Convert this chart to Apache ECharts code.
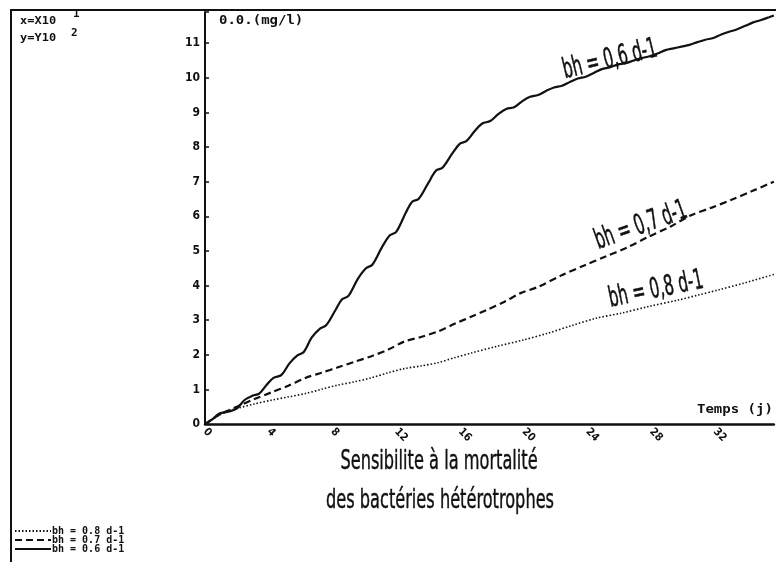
<!DOCTYPE html>
<html>
<head>
<meta charset="utf-8">
<script src="https://cdn.jsdelivr.net/npm/echarts@6/dist/echarts.min.js"></script>
<style>
  html, body { margin: 0; padding: 0; background: #fff; }
  #chart { width: 776px; height: 562px; }
</style>
</head>
<body>
<div id="chart"></div>
<script>
// Dissolved oxygen (mg/l) vs time (days) for three heterotrophic mortality rates
const seriesNames = ['bh = 0.8 d-1', 'bh = 0.7 d-1', 'bh = 0.6 d-1'];
const curveLabels = ['bh = 0,6 d-1', 'bh = 0,7 d-1', 'bh = 0,8 d-1'];

const od06 = [
  [0,0],[0.5,0.15],[0.9,0.3],[1.5,0.36],[2.0,0.45],[2.5,0.7],[3.0,0.82],[3.4,0.88],
  [3.9,1.15],[4.3,1.33],[4.8,1.42],[5.3,1.75],[5.8,1.98],[6.2,2.08],[6.7,2.5],[7.2,2.75],
  [7.6,2.85],[8.2,3.3],[8.6,3.6],[9.0,3.7],[9.6,4.2],[10.1,4.5],[10.5,4.6],[11.1,5.1],
  [11.6,5.45],[12.0,5.55],[12.6,6.1],[13.0,6.42],[13.4,6.5],[14.0,6.95],[14.5,7.32],[14.9,7.4],
  [15.5,7.8],[16.0,8.1],[16.4,8.17],[16.9,8.45],[17.4,8.68],[17.9,8.75],[18.4,8.95],[18.9,9.1],
  [19.4,9.15],[19.9,9.32],[20.4,9.45],[20.9,9.5],[21.4,9.62],[21.9,9.72],[22.4,9.77],[22.9,9.88],
  [23.4,9.98],[23.9,10.03],[24.4,10.14],[24.9,10.25],[25.4,10.3],[25.9,10.38],[26.4,10.42],[26.9,10.5],
  [27.4,10.57],[27.9,10.62],[28.4,10.7],[28.9,10.8],[29.4,10.85],[29.9,10.9],[30.4,10.95],[30.9,11.03],
  [31.4,11.1],[31.9,11.15],[32.4,11.25],[32.9,11.33],[33.4,11.4],[33.9,11.5],[34.4,11.6],[34.9,11.67],
  [35.4,11.75],[35.7,11.8]
];

const od07 = [
  [0,0],[0.5,0.15],[1.0,0.3],[1.5,0.4],[2,0.5],[3,0.7],[4.2,0.92],[5.2,1.1],[6.3,1.33],
  [7.3,1.48],[8.3,1.63],[9.4,1.8],[10.4,1.95],[11.5,2.15],[12.5,2.38],[13.6,2.52],[14.6,2.67],
  [15.7,2.9],[16.7,3.1],[17.7,3.3],[18.8,3.53],[19.8,3.78],[20.9,3.96],[22.4,4.3],[23.8,4.58],
  [25.1,4.83],[26.5,5.1],[27.8,5.4],[29.2,5.7],[30.5,6.03],[31.8,6.25],[33,6.47],[34.3,6.72],[35.7,7.0]
];

const od08 = [
  [0,0],[0.5,0.15],[1,0.28],[1.5,0.38],[2.1,0.46],[3.1,0.58],[4.2,0.69],[5.2,0.78],[6.3,0.88],
  [7.3,1.0],[8.3,1.12],[9.4,1.22],[10.4,1.33],[11.5,1.48],[12.5,1.6],[13.6,1.68],[14.6,1.77],
  [15.7,1.92],[16.7,2.05],[18.3,2.24],[20,2.43],[21.5,2.62],[23,2.84],[24.5,3.05],[26.1,3.2],
  [27.9,3.4],[29.7,3.58],[31,3.73],[32.2,3.87],[33.9,4.08],[35.7,4.32]
];

const xTicks = [0, 4, 8, 12, 16, 20, 24, 28, 32];
const yTicks = [0, 1, 2, 3, 4, 5, 6, 7, 8, 9, 10, 11];

const ink = '#111';
const boldFont = 'DejaVu Sans Condensed';
const tallFont = 'DejaVu Sans Condensed';
const monoBold = (px) => 'bold ' + px + 'px "DejaVu Sans Mono"';

// tall handwritten-style annotation text
const tallText = (text, x, y, deg, size, sy) => ({
  type: 'text', x: x, y: y, rotation: deg * Math.PI / 180, scaleY: sy,
  style: {
    text: text, fill: ink, stroke: ink, lineWidth: 0.3,
    font: size + 'px "' + tallFont + '"', align: 'center', verticalAlign: 'middle'
  }
});

const chart = echarts.init(document.getElementById('chart'), null, { renderer: 'canvas' });

chart.setOption({
  backgroundColor: '#fff',
  animation: false,
  grid: { left: 205, right: 0, top: 12, bottom: 138, containLabel: false },
  xAxis: {
    type: 'value', min: 0, max: 35.7, interval: 4,
    axisLine: { lineStyle: { color: ink, width: 2.5 } },
    axisTick: { show: false },
    splitLine: { show: false },
    axisLabel: {
      rotate: -45, margin: 6, color: ink,
      fontFamily: boldFont, fontWeight: 'bold', fontSize: 11,
      formatter: v => (xTicks.indexOf(v) >= 0 ? String(v) : '')
    }
  },
  yAxis: {
    type: 'value', min: 0, max: 11.9, interval: 1,
    axisLine: { lineStyle: { color: ink, width: 2 } },
    axisTick: { show: true, inside: true, length: 4, lineStyle: { color: ink, width: 1.5 } },
    splitLine: { show: false },
    axisLabel: {
      margin: 5, color: ink,
      fontFamily: boldFont, fontWeight: 'bold', fontSize: 12,
      formatter: v => (yTicks.indexOf(v) >= 0 ? String(v) : '')
    }
  },
  legend: {
    data: seriesNames,
    orient: 'vertical', left: 14, bottom: 8, padding: 0,
    itemWidth: 36, itemHeight: 6, itemGap: -1,
    itemStyle: { opacity: 0 },
    textStyle: { color: ink, fontFamily: 'DejaVu Sans Mono', fontWeight: 'bold', fontSize: 10, lineHeight: 9, padding: [0, 0, 0, -4] }
  },
  series: [
    { name: seriesNames[2], type: 'line', data: od06, symbol: 'none', smooth: 0.35,
      lineStyle: { color: ink, width: 2.2 }, itemStyle: { color: ink } },
    { name: seriesNames[1], type: 'line', data: od07, symbol: 'none', smooth: 0.3,
      lineStyle: { color: ink, width: 2.2, type: [7, 4] }, itemStyle: { color: ink } },
    { name: seriesNames[0], type: 'line', data: od08, symbol: 'none', smooth: 0.3,
      lineStyle: { color: ink, width: 1.6, type: [1.5, 2] }, itemStyle: { color: ink } }
  ],
  graphic: [
    // frame lines
    { type: 'line', shape: { x1: 10, y1: 10, x2: 776, y2: 10 }, style: { stroke: ink, lineWidth: 2 } },
    { type: 'line', shape: { x1: 11, y1: 10, x2: 11, y2: 562 }, style: { stroke: ink, lineWidth: 2 } },
    // scale factors
    { type: 'text', x: 20, y: 16, scaleY: 0.85, style: { text: 'x=X10', fill: ink, font: monoBold(12) } },
    { type: 'text', x: 73, y: 9, style: { text: '1', fill: ink, font: monoBold(11) } },
    { type: 'text', x: 20, y: 33, scaleY: 0.85, style: { text: 'y=Y10', fill: ink, font: monoBold(12) } },
    { type: 'text', x: 71, y: 28, style: { text: '2', fill: ink, font: monoBold(11) } },
    // axis names
    { type: 'text', x: 219, y: 15, scaleY: 0.85, style: { text: '0.0.(mg/l)', fill: ink, font: monoBold(14) } },
    { type: 'text', x: 697, y: 404, scaleY: 0.85, style: { text: 'Temps (j)', fill: ink, font: monoBold(14) } },
    // curve labels
    tallText(curveLabels[0], 610, 60, 13.5, 17, 1.65),
    tallText(curveLabels[1], 641, 226, 19.5, 17, 1.65),
    tallText(curveLabels[2], 656, 290, 11.5, 17, 1.65),
    // caption
    tallText('Sensibilite à la mortalité', 439, 462, 0, 18, 1.45),
    tallText('des bactéries hétérotrophes', 440, 501, 0, 18, 1.45)
  ]
});
</script>
</body>
</html>
